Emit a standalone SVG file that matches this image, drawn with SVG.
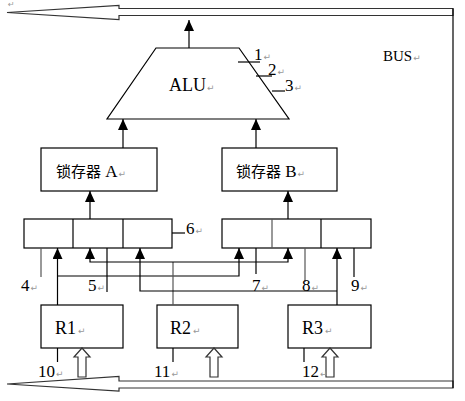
<svg xmlns="http://www.w3.org/2000/svg" width="465" height="401" viewBox="0 0 465 401">
<defs>
<style>
.ln{stroke:#000;stroke-width:1.2;fill:none}
.gl{stroke:#555;stroke-width:1.2;fill:none}
.box{fill:#fff;stroke:#000;stroke-width:1.2}
.bus{fill:#fff;stroke:#333;stroke-width:1.2}
.t{font-family:"Liberation Serif","Times New Roman",serif;font-size:17px;fill:#000}
.cn{font-family:"Noto Sans CJK SC","Noto Sans CJK JP",sans-serif;font-size:15px}
.pm{font-family:"DejaVu Sans",sans-serif;font-size:9px;fill:#999}
</style>
<marker id="ah" markerUnits="userSpaceOnUse" markerWidth="11" markerHeight="10" refX="11" refY="5" viewBox="0 0 11 10" orient="auto">
<polygon points="0,0 11,5 0,10" fill="#000"/>
</marker>
</defs>

<g id="bus">
<polygon class="bus" points="7,12.5 119,5.5 119,8.5 453,8.5 453,15.5 119,15.5 119,19.5"/>
<polygon class="bus" points="7,384 119,376.5 119,381 453,381 453,388 119,388 119,391"/>
<line class="ln" x1="453" y1="8.5" x2="453" y2="388"/>
<text class="pm" x="8" y="7" style="font-size:8px">↵</text>
<text class="t" x="383" y="61" style="font-size:15px">BUS<tspan class="pm" dx="1">↵</tspan></text>
</g>

<g id="alu">
<polygon class="box" points="156,48 239,48 289,119 107,119"/>
<text class="t" x="169" y="91" style="font-size:18px">ALU<tspan class="pm" dx="1">↵</tspan></text>
</g>

<g id="latchA">
<rect class="box" x="41" y="148" width="116" height="43"/>
<text class="t" x="56" y="177"><tspan class="cn">锁存器</tspan> A<tspan class="pm" dx="1">↵</tspan></text>
</g>
<g id="latchB">
<rect class="box" x="222" y="148" width="115" height="43"/>
<text class="t" x="236" y="177"><tspan class="cn">锁存器</tspan> B<tspan class="pm" dx="1">↵</tspan></text>
</g>

<g id="regA">
<rect class="box" x="24" y="219" width="148" height="29"/>
<line class="ln" x1="73" y1="219" x2="73" y2="248"/>
<line class="ln" x1="123" y1="219" x2="123" y2="248"/>
</g>
<g id="regB">
<rect class="box" x="222" y="219" width="149" height="29"/>
<line class="gl" x1="272" y1="219" x2="272" y2="248"/>
<line class="ln" x1="321" y1="219" x2="321" y2="248"/>
</g>

<g id="R1">
<rect class="box" x="41" y="305" width="82" height="43"/>
<text class="t" x="55" y="334" style="font-size:18px">R1<tspan class="pm" dx="2">↵</tspan></text>
</g>
<g id="R2">
<rect class="box" x="157" y="305" width="81" height="43"/>
<text class="t" x="170" y="334" style="font-size:18px">R2<tspan class="pm" dx="2">↵</tspan></text>
</g>
<g id="R3">
<rect class="box" x="288" y="305" width="83" height="43"/>
<text class="t" x="302" y="334" style="font-size:18px">R3<tspan class="pm" dx="2">↵</tspan></text>
</g>

<g id="connectors">
<line class="ln" x1="189" y1="48" x2="189" y2="20" marker-end="url(#ah)"/>
<line class="ln" x1="123" y1="148" x2="123" y2="119" marker-end="url(#ah)"/>
<line class="ln" x1="256" y1="148" x2="256" y2="119" marker-end="url(#ah)"/>
<line class="ln" x1="90" y1="219" x2="90" y2="191" marker-end="url(#ah)"/>
<line class="ln" x1="288" y1="219" x2="288" y2="191" marker-end="url(#ah)"/>
<polyline class="ln" points="57.5,305 57.5,248" marker-end="url(#ah)"/>
<polyline class="ln" points="57.5,276 239,276 239,248" marker-end="url(#ah)"/>
<line class="gl" x1="173" y1="305" x2="173" y2="262"/>
<polyline class="ln" points="173,262 90,262 90,248" marker-end="url(#ah)"/>
<polyline class="ln" points="173,262 288,262 288,248" marker-end="url(#ah)"/>
<polyline class="ln" points="337,305 337,248" marker-end="url(#ah)"/>
<polyline class="ln" points="337,291 140,291 140,248" marker-end="url(#ah)"/>
<line class="gl" x1="41" y1="248" x2="41" y2="277"/>
<line class="ln" x1="107" y1="248" x2="107" y2="292"/>
<line class="ln" x1="256" y1="248" x2="256" y2="274"/>
<line class="gl" x1="305" y1="248" x2="305" y2="282"/>
<line class="ln" x1="354" y1="248" x2="354" y2="277"/>
<line class="ln" x1="57.5" y1="348" x2="57.5" y2="362"/>
<line class="ln" x1="173" y1="348" x2="173" y2="362"/>
<line class="ln" x1="304" y1="348" x2="304" y2="362"/>
<line class="ln" x1="238" y1="62" x2="260" y2="62"/>
<line class="ln" x1="256" y1="76" x2="272" y2="76"/>
<line class="ln" x1="272" y1="91" x2="285" y2="91"/>
<line class="ln" x1="172" y1="233" x2="185" y2="233"/>
<polygon class="bus" points="82,348 90,357 86,357 86,377 78,377 78,357 74,357"/>
<polygon class="bus" points="214,348 222,357 218,357 218,377 210,377 210,357 206,357"/>
<polygon class="bus" points="330,348 338,357 334,357 334,377 326,377 326,357 322,357"/>
</g>

<g id="labels">
<text class="t" x="254" y="60">1<tspan class="pm" dx="1">↵</tspan></text>
<text class="t" x="268" y="75">2<tspan class="pm" dx="1">↵</tspan></text>
<text class="t" x="285" y="91">3<tspan class="pm" dx="1">↵</tspan></text>
<text class="t" x="186" y="234">6<tspan class="pm" dx="1">↵</tspan></text>
<text class="t" x="21" y="291">4<tspan class="pm" dx="1">↵</tspan></text>
<text class="t" x="88" y="291">5<tspan class="pm" dx="1">↵</tspan></text>
<text class="t" x="252" y="291">7<tspan class="pm" dx="1">↵</tspan></text>
<text class="t" x="302" y="291">8<tspan class="pm" dx="1">↵</tspan></text>
<text class="t" x="351" y="291">9<tspan class="pm" dx="1">↵</tspan></text>
<text class="t" x="38" y="377">10<tspan class="pm" dx="1">↵</tspan></text>
<text class="t" x="154" y="377">11<tspan class="pm" dx="1">↵</tspan></text>
<text class="t" x="302" y="377">12<tspan class="pm" dx="1">↵</tspan></text>
</g>
</svg>
